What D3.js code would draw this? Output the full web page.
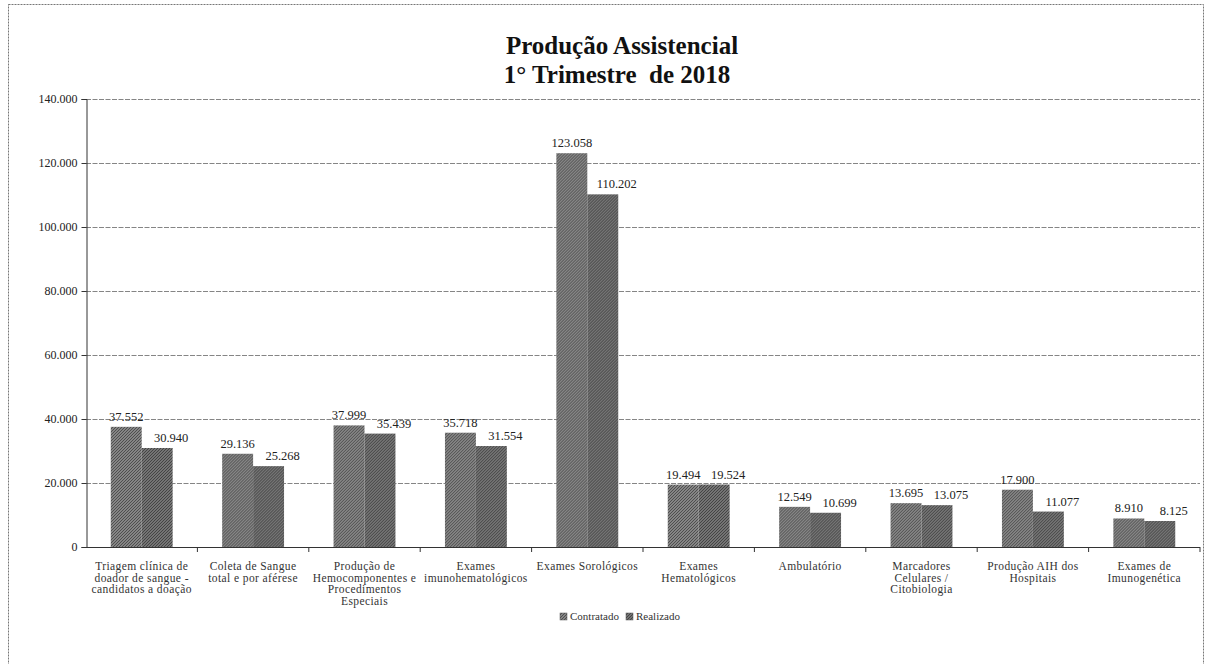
<!DOCTYPE html>
<html><head><meta charset="utf-8">
<script src="https://cdn.jsdelivr.net/npm/d3@7/dist/d3.min.js"></script>
<style>
html,body{margin:0;padding:0;background:#fff;}
svg{display:block;}
svg text{font-family:"Liberation Serif","DejaVu Serif",serif;}
</style></head>
<body>
<svg id="chart" width="1208" height="664"></svg>
<script>
const categories = [
  ["Triagem clínica de","doador de sangue -","candidatos a doação"],
  ["Coleta de Sangue","total e por aférese"],
  ["Produção de","Hemocomponentes e","Procedimentos","Especiais"],
  ["Exames","imunohematológicos"],
  ["Exames Sorológicos"],
  ["Exames","Hematológicos"],
  ["Ambulatório"],
  ["Marcadores","Celulares /","Citobiologia"],
  ["Produção AIH dos","Hospitais"],
  ["Exames de","Imunogenética"]
];
const seriesNames = ["Contratado","Realizado"];
const contratado = [37552,29136,37999,35718,123058,19494,12549,13695,17900,8910];
const realizado  = [30940,25268,35439,31554,110202,19524,10699,13075,11077,8125];
const yTicks = [0,20000,40000,60000,80000,100000,120000,140000];
const titleLines = ["Produção Assistencial","1° Trimestre  de 2018"];

const svg = d3.select("#chart");
const pLeft = 86, pRight = 1200, pTop = 99, pBottom = 547;
const FONT = "Liberation Serif";
const fmt = v => d3.format(",")(v).replace(/,/g,".");

// patterns (scan-like halftone)
const defs = svg.append("defs");
function pat(id, a, b){
  const p = defs.append("pattern").attr("id",id).attr("width",3).attr("height",3).attr("patternUnits","userSpaceOnUse");
  p.append("rect").attr("width",3).attr("height",3).attr("fill",a);
  p.append("rect").attr("x",0).attr("y",0).attr("width",1).attr("height",1).attr("fill",b);
  p.append("rect").attr("x",2).attr("y",1).attr("width",1).attr("height",1).attr("fill",b);
  p.append("rect").attr("x",1).attr("y",2).attr("width",1).attr("height",1).attr("fill",b);
}
pat("pC","#858585","#4e4e4e");
pat("pR","#747474","#444444");
const fills = {Contratado:"url(#pC)", Realizado:"url(#pR)"};

// outer border
svg.append("rect").attr("x",8.5).attr("y",4.5).attr("width",1195).attr("height",700)
  .attr("fill","none").attr("stroke","#777").attr("stroke-dasharray","2,1");

// title
svg.append("text").attr("x",622).attr("y",54).attr("text-anchor","middle").attr("font-family",FONT)
  .attr("font-size",25).attr("font-weight","bold").attr("fill","#111").text(titleLines[0]);
svg.append("text").attr("x",617).attr("y",83).attr("text-anchor","middle").attr("font-family",FONT)
  .attr("font-size",25).attr("font-weight","bold").attr("fill","#111").style("white-space","pre").text(titleLines[1]);

const y = d3.scaleLinear().domain([0,140000]).range([pBottom,pTop]);
const x0 = d3.scaleBand().domain(d3.range(categories.length)).range([pLeft,pRight]).padding(0);
const x1 = d3.scaleBand().domain(seriesNames).range([0,x0.bandwidth()]).paddingInner(0).paddingOuter(0.8);

// gridlines
svg.append("g").selectAll("line").data(yTicks.filter(d=>d>0)).join("line")
  .attr("x1",pLeft).attr("x2",pRight).attr("y1",d=>y(d)+0.5).attr("y2",d=>y(d)+0.5)
  .attr("stroke","#666").attr("stroke-width",0.8).attr("stroke-dasharray","5,1.5");

// y axis
const yAxis = d3.axisLeft(y).tickValues(yTicks).tickFormat(fmt).tickSize(5).tickPadding(4);
const ga = svg.append("g").attr("transform",`translate(${pLeft+0.5},0)`).call(yAxis);
ga.attr("font-family",FONT);
ga.select(".domain").attr("stroke","#333");
ga.selectAll(".tick line").attr("stroke","#333");
ga.selectAll(".tick text").attr("font-size",12).attr("font-family",FONT).attr("fill","#222");

// bars
const data = categories.map((c,i)=>({i, vals:[{s:"Contratado",v:contratado[i]},{s:"Realizado",v:realizado[i]}]}));
const groups = svg.append("g").selectAll("g").data(data).join("g")
  .attr("transform",d=>`translate(${x0(d.i)},0)`);
groups.selectAll("rect").data(d=>d.vals).join("rect")
  .attr("x",d=>x1(d.s)).attr("width",x1.bandwidth())
  .attr("y",d=>y(d.v)).attr("height",d=>y(0)-y(d.v))
  .attr("fill",d=>fills[d.s]);
groups.selectAll("text").data(d=>d.vals).join("text")
  .attr("x",d=>x1(d.s)+x1.bandwidth()/2+(d.s==="Realizado"?14:0))
  .attr("y",d=>y(d.v)-6).attr("text-anchor","middle").attr("font-family",FONT)
  .attr("font-size",12.5).attr("fill","#222").text(d=>fmt(d.v));

// x axis
svg.append("line").attr("x1",pLeft).attr("x2",pRight).attr("y1",pBottom+0.5).attr("y2",pBottom+0.5).attr("stroke","#333");
svg.append("g").selectAll("line").data(d3.range(1,categories.length+1)).join("line")
  .attr("x1",d=>pLeft+d*x0.bandwidth()).attr("x2",d=>pLeft+d*x0.bandwidth())
  .attr("y1",pBottom).attr("y2",pBottom+5).attr("stroke","#333");

// category labels
const cl = svg.append("g").selectAll("text").data(categories).join("text")
  .attr("text-anchor","middle").attr("font-family",FONT).attr("font-size",11.5).attr("fill","#333").attr("letter-spacing",0.4);
cl.each(function(lines,i){
  d3.select(this).selectAll("tspan").data(lines).join("tspan")
    .attr("x",x0(i)+x0.bandwidth()/2).attr("y",(d,j)=>570+j*11.7).text(d=>d);
});

// legend
const lg = svg.append("g").attr("transform","translate(560,620)");
seriesNames.forEach((s,i)=>{
  const g = lg.append("g").attr("transform",`translate(${i*66},0)`);
  g.append("rect").attr("x",0).attr("y",-7).attr("width",7).attr("height",7).attr("fill",fills[s]).attr("stroke","#555").attr("stroke-width",0.5);
  g.append("text").attr("x",10).attr("y",0).attr("font-family",FONT).attr("font-size",11).attr("fill","#333").text(s);
});
</script>
</body></html>
